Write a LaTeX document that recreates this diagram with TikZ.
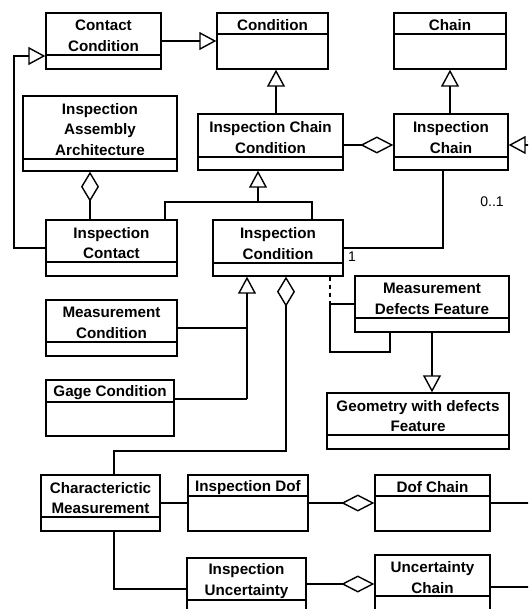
\documentclass[tikz,border=0pt]{standalone}
\usepackage{fontspec}
\setmainfont{Liberation Sans}
\usetikzlibrary{arrows.meta,fit}
\tikzset{
  classbox/.style={draw, rectangle, inner sep=0pt, line width=1.4pt},
  classtext/.style={font=\fontsize{15.2}{20.5}\selectfont\bfseries, align=center, inner sep=0pt, yshift=-2pt},
  mult/.style={font=\fontsize{14}{16}\selectfont, inner sep=0pt},
  gen/.style={-{Triangle[open,length=17pt,width=18pt]}},
  aggv/.style={-{Diamond[open,length=30pt,width=18pt]}},
  aggh/.style={-{Diamond[open,length=33pt,width=17pt]}},
}
\newcommand\umlclass[7]{%
  \node[classbox, fit={(#2,#3) (#4,#5)}] (#1) {};
  \draw (#2,#6) -- (#4,#6);
  \node[classtext] (#1-t) at ({(#2+#4)/2},{(#3+#6)/2}) {#7};
}
\begin{document}
\begin{tikzpicture}[x=1pt,y=-1pt,line width=1.4pt]
\useasboundingbox (0,0) rectangle (528,609);
\clip (0,0) rectangle (528,609);
% classes
\umlclass{cc}{46}{13}{161}{69}{55}{Contact\\Condition}
\umlclass{cond}{217}{13}{328}{69}{34}{Condition}
\umlclass{chain}{394}{13}{506}{69}{34}{Chain}
\umlclass{iaa}{23}{96}{177}{171}{159}{Inspection\\Assembly\\Architecture}
\umlclass{icc}{198}{114}{343}{170}{157}{Inspection Chain\\Condition}
\umlclass{ich}{394}{114}{508}{170}{157}{Inspection\\Chain}
\umlclass{icon}{46}{220}{177}{276}{262}{Inspection\\Contact}
\umlclass{icnd}{213}{220}{343}{276}{263}{Inspection\\Condition}
\umlclass{mc}{46}{300}{177}{356}{342}{Measurement\\Condition}
\umlclass{gc}{46}{380}{174}{436}{402}{Gage Condition}
\umlclass{mdf}{355}{276}{509}{332}{318}{Measurement\\Defects Feature}
\umlclass{geo}{327}{393}{509}{449}{435}{Geometry with defects\\Feature}
\umlclass{cm}{41}{475}{160}{531}{517}{Characterictic\\Measurement}
\umlclass{idof}{188}{475}{308}{531}{496}{Inspection Dof}
\umlclass{dofc}{375}{475}{490}{531}{496}{Dof Chain}
\umlclass{iu}{187}{558}{306}{620}{600}{Inspection\\Uncertainty}
\umlclass{uc}{375}{555}{490}{620}{596}{Uncertainty\\Chain}
% helper coordinates
\coordinate (L) at (14,0);
\coordinate (X90) at (90,0);
\coordinate (X276) at (276,0);
\coordinate (J) at (258,202);
\coordinate (X165) at (165,0);
\coordinate (X312) at (312,0);
\coordinate (X443) at (443,0);
\coordinate (Y248) at (0,248);
\coordinate (G) at (247,399);
\coordinate (K) at (286,451);
\coordinate (X114) at (114,0);
\coordinate (X330) at (330,0);
\coordinate (X390) at (390,0);
\coordinate (Y352) at (0,352);
\coordinate (Y584) at (0,584);
\coordinate (off1) at (545,145);
\coordinate (off2) at (540,503);
\coordinate (off3) at (540,587);
% connectors
\draw[gen] (cc.east) -- (cond.west);
\draw[gen] (icon.west) -- (icon.west -| L) -- ([yshift=-15pt]cc.west -| L) -- ([yshift=-15pt]cc.west);
\draw[gen] (icc.north -| X276) -- (cond.south -| X276);
\draw[gen] (ich.north -| chain.south) -- (chain.south);
\draw[aggh] ([yshift=-3pt]icc.east) -- ([yshift=-3pt]ich.west);
\draw[gen] (off1) -- (ich.east |- off1);
\draw[aggv] (icon.north -| X90) -- (iaa.south -| X90);
\draw (icon.north -| X165) -- (X165 |- J) -- (X312 |- J) -- (icnd.north -| X312);
\draw[gen] (J) -- (icc.south -| J);
\draw (ich.south -| X443) -- (X443 |- Y248) -- (icnd.east |- Y248);
\node[mult] (m1) at (352,257) {1};
\node[mult] (m01) at (492,202) {0..1};
\draw (mc.east) -- (mc.east -| G);
\draw (gc.east |- G) -- (G);
\draw[gen] (G) -- (icnd.south -| G);
\draw[aggv] (cm.north -| X114) -- (X114 |- K) -- (K) -- (icnd.south -| K);
\draw[dashed, dash pattern=on 4pt off 4pt] (icnd.south -| X330) -- (mdf.west -| X330);
\draw (mdf.west) -- (mdf.west -| X330) -- (X330 |- Y352) -- (X390 |- Y352) -- (mdf.south -| X390);
\draw[gen] (mdf.south) -- (mdf.south |- geo.north);
\draw (cm.east) -- (idof.west);
\draw[aggh] (idof.east) -- (dofc.west);
\draw (dofc.east) -- (off2);
\draw (cm.south -| X114) |- (iu.west);
\draw[aggh] (iu.east |- Y584) -- (uc.west |- Y584);
\draw (uc.east |- off3) -- (off3);
\end{tikzpicture}
\end{document}
